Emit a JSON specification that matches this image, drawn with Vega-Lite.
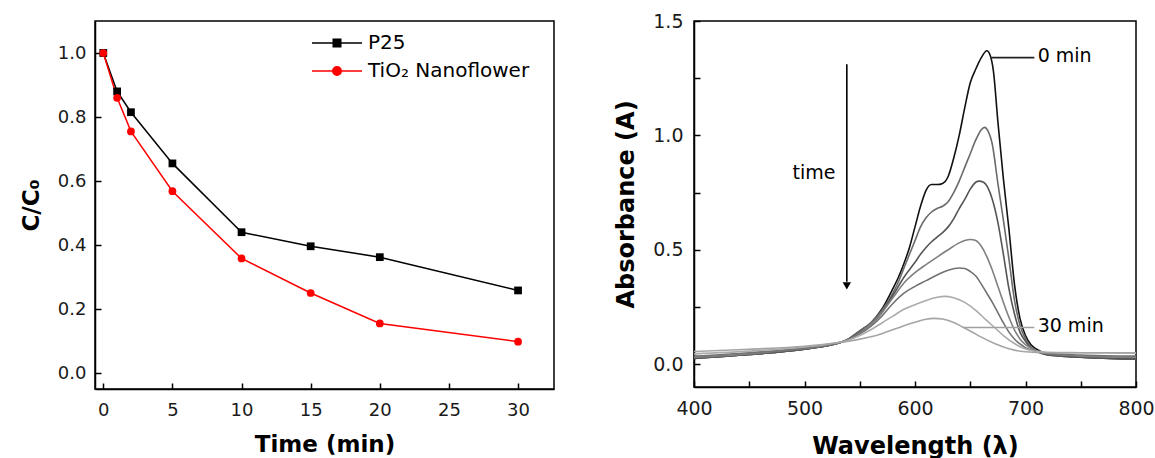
{
  "$schema": "https://vega.github.io/schema/vega-lite/v6.json",
  "background": "white",
  "padding": {"left": 19, "top": 11, "right": 5, "bottom": 0},
  "bounds": "flush",
  "spacing": 140,
  "config": {
    "font": "DejaVu Sans",
    "view": {"stroke": "#000000", "strokeWidth": 1.5},
    "axis": {
      "grid": false,
      "domainColor": "#000000",
      "domainWidth": 1.5,
      "tickColor": "#000000",
      "tickWidth": 1.5,
      "tickSize": -6,
      "labelColor": "#1a1a1a",
      "titleColor": "#000000",
      "labelFont": "DejaVu Sans",
      "titleFont": "DejaVu Sans",
      "titleFontWeight": "bold",
      "labelFlush": false,
      "labelOverlap": false
    }
  },
  "hconcat": [
    {
      "width": 459,
      "height": 368,
      "data": {
        "values": [
          {"s": "P25", "t": 0, "c": 1.0},
          {"s": "P25", "t": 1, "c": 0.88},
          {"s": "P25", "t": 2, "c": 0.815},
          {"s": "P25", "t": 5, "c": 0.655},
          {"s": "P25", "t": 10, "c": 0.44},
          {"s": "P25", "t": 15, "c": 0.396},
          {"s": "P25", "t": 20, "c": 0.362},
          {"s": "P25", "t": 30, "c": 0.258},
          {"s": "TiO₂ Nanoflower", "t": 0, "c": 1.0},
          {"s": "TiO₂ Nanoflower", "t": 1, "c": 0.86},
          {"s": "TiO₂ Nanoflower", "t": 2, "c": 0.755},
          {"s": "TiO₂ Nanoflower", "t": 5, "c": 0.568},
          {"s": "TiO₂ Nanoflower", "t": 10, "c": 0.358},
          {"s": "TiO₂ Nanoflower", "t": 15, "c": 0.25},
          {"s": "TiO₂ Nanoflower", "t": 20, "c": 0.155},
          {"s": "TiO₂ Nanoflower", "t": 30, "c": 0.098}
        ]
      },
      "layer": [
        {
          "mark": {"type": "line", "strokeWidth": 1.5},
          "encoding": {
            "x": {
              "field": "t", "type": "quantitative",
              "scale": {"domain": [-0.6, 32.6], "nice": false, "zero": false},
              "axis": {
                "title": "Time (min)",
                "values": [0, 2.5, 5, 7.5, 10, 12.5, 15, 17.5, 20, 22.5, 25, 27.5, 30],
                "labelExpr": "datum.value % 5 === 0 ? datum.label : ''",
                "labelFontSize": 18,
                "labelPadding": 18,
                "tickSize": -6,
                "titleFontSize": 23,
                "titlePadding": 14
              }
            },
            "y": {
              "field": "c", "type": "quantitative",
              "scale": {"domain": [-0.05, 1.1], "nice": false, "zero": false},
              "axis": {
                "title": "C/C₀",
                "values": [0, 0.1, 0.2, 0.3, 0.4, 0.5, 0.6, 0.7, 0.8, 0.9, 1.0],
                "labelExpr": "round(datum.value * 10) % 2 === 0 ? format(datum.value, '.1f') : ''",
                "labelFontSize": 18,
                "labelPadding": 15,
                "tickSize": -6,
                "titleFontSize": 23,
                "titlePadding": 14
              }
            },
            "color": {
              "field": "s", "type": "nominal",
              "scale": {"domain": ["P25", "TiO₂ Nanoflower"], "range": ["#000000", "#ff0000"]},
              "legend": {
                "orient": "none",
                "legendX": 232,
                "legendY": 12,
                "title": null,
                "padding": 0,
                "symbolSize": 100,
                "symbolStrokeWidth": 1.5,
                "labelFontSize": 20,
                "labelFont": "DejaVu Sans",
                "labelColor": "#000000",
                "labelLimit": 400,
                "labelOffset": 21,
                "rowPadding": 8,
                "encode": {
                  "symbols": {
                    "update": {
                      "shape": {"signal": "datum.value === 'P25' ? 'M-5,0H5M-0.75,-0.75H0.75V0.75H-0.75Z' : 'M-5,0H5M0.85,0A0.85,0.85 0 1 1 -0.85,0A0.85,0.85 0 1 1 0.85,0Z'"},
                      "fill": {"signal": "datum.value === 'P25' ? '#000000' : '#ff0000'"},
                      "stroke": {"signal": "datum.value === 'P25' ? '#000000' : '#ff0000'"},
                      "fillOpacity": {"value": 1},
                      "strokeOpacity": {"value": 1},
                      "strokeWidth": {"value": 1.5}
                    }
                  }
                }
              }
            }
          }
        },
        {
          "transform": [{"filter": "datum.s === 'P25'"}],
          "mark": {"type": "point", "shape": "square", "filled": true, "size": 60, "opacity": 1, "color": "#000000"},
          "encoding": {
            "x": {"field": "t", "type": "quantitative"},
            "y": {"field": "c", "type": "quantitative"}
          }
        },
        {
          "transform": [{"filter": "datum.s !== 'P25'"}],
          "mark": {"type": "point", "shape": "circle", "filled": true, "size": 60, "opacity": 1, "color": "#ff0000"},
          "encoding": {
            "x": {"field": "t", "type": "quantitative"},
            "y": {"field": "c", "type": "quantitative"}
          }
        }
      ]
    },
    {
      "width": 442,
      "height": 366,
      "layer": [
        {
          "data": {
            "values": [
              {"t": 0, "w": 400, "a": 0.025}, {"t": 0, "w": 450, "a": 0.042}, {"t": 0, "w": 500, "a": 0.065}, {"t": 0, "w": 520, "a": 0.08},
              {"t": 0, "w": 540, "a": 0.11}, {"t": 0, "w": 550, "a": 0.145}, {"t": 0, "w": 560, "a": 0.18}, {"t": 0, "w": 570, "a": 0.24},
              {"t": 0, "w": 580, "a": 0.33}, {"t": 0, "w": 585, "a": 0.38}, {"t": 0, "w": 590, "a": 0.44}, {"t": 0, "w": 595, "a": 0.51},
              {"t": 0, "w": 600, "a": 0.6}, {"t": 0, "w": 605, "a": 0.69}, {"t": 0, "w": 610, "a": 0.76}, {"t": 0, "w": 615, "a": 0.785},
              {"t": 0, "w": 620, "a": 0.785}, {"t": 0, "w": 625, "a": 0.79}, {"t": 0, "w": 630, "a": 0.82}, {"t": 0, "w": 635, "a": 0.9},
              {"t": 0, "w": 640, "a": 1.0}, {"t": 0, "w": 645, "a": 1.12}, {"t": 0, "w": 650, "a": 1.23}, {"t": 0, "w": 655, "a": 1.29},
              {"t": 0, "w": 660, "a": 1.34}, {"t": 0, "w": 665, "a": 1.37}, {"t": 0, "w": 668, "a": 1.35}, {"t": 0, "w": 671, "a": 1.28},
              {"t": 0, "w": 675, "a": 1.06}, {"t": 0, "w": 680, "a": 0.81}, {"t": 0, "w": 685, "a": 0.59}, {"t": 0, "w": 690, "a": 0.35},
              {"t": 0, "w": 695, "a": 0.2}, {"t": 0, "w": 700, "a": 0.125}, {"t": 0, "w": 705, "a": 0.085}, {"t": 0, "w": 710, "a": 0.065},
              {"t": 0, "w": 720, "a": 0.045}, {"t": 0, "w": 750, "a": 0.03}, {"t": 0, "w": 800, "a": 0.022},

              {"t": 5, "w": 400, "a": 0.025}, {"t": 5, "w": 450, "a": 0.042}, {"t": 5, "w": 500, "a": 0.065}, {"t": 5, "w": 520, "a": 0.08},
              {"t": 5, "w": 540, "a": 0.11}, {"t": 5, "w": 550, "a": 0.145}, {"t": 5, "w": 560, "a": 0.18}, {"t": 5, "w": 570, "a": 0.235},
              {"t": 5, "w": 580, "a": 0.31}, {"t": 5, "w": 585, "a": 0.36}, {"t": 5, "w": 590, "a": 0.42}, {"t": 5, "w": 595, "a": 0.48},
              {"t": 5, "w": 600, "a": 0.54}, {"t": 5, "w": 605, "a": 0.6}, {"t": 5, "w": 610, "a": 0.64}, {"t": 5, "w": 615, "a": 0.665},
              {"t": 5, "w": 620, "a": 0.68}, {"t": 5, "w": 625, "a": 0.69}, {"t": 5, "w": 630, "a": 0.71}, {"t": 5, "w": 635, "a": 0.75},
              {"t": 5, "w": 640, "a": 0.8}, {"t": 5, "w": 645, "a": 0.86}, {"t": 5, "w": 650, "a": 0.92}, {"t": 5, "w": 655, "a": 0.98},
              {"t": 5, "w": 660, "a": 1.025}, {"t": 5, "w": 663, "a": 1.035}, {"t": 5, "w": 666, "a": 1.02}, {"t": 5, "w": 670, "a": 0.96},
              {"t": 5, "w": 675, "a": 0.79}, {"t": 5, "w": 680, "a": 0.63}, {"t": 5, "w": 685, "a": 0.46}, {"t": 5, "w": 690, "a": 0.28},
              {"t": 5, "w": 695, "a": 0.17}, {"t": 5, "w": 700, "a": 0.11}, {"t": 5, "w": 705, "a": 0.075}, {"t": 5, "w": 710, "a": 0.058},
              {"t": 5, "w": 720, "a": 0.04}, {"t": 5, "w": 750, "a": 0.03}, {"t": 5, "w": 800, "a": 0.022},

              {"t": 10, "w": 400, "a": 0.025}, {"t": 10, "w": 450, "a": 0.042}, {"t": 10, "w": 500, "a": 0.065}, {"t": 10, "w": 520, "a": 0.08},
              {"t": 10, "w": 540, "a": 0.11}, {"t": 10, "w": 550, "a": 0.14}, {"t": 10, "w": 560, "a": 0.175}, {"t": 10, "w": 570, "a": 0.225},
              {"t": 10, "w": 580, "a": 0.3}, {"t": 10, "w": 590, "a": 0.38}, {"t": 10, "w": 600, "a": 0.445}, {"t": 10, "w": 605, "a": 0.48},
              {"t": 10, "w": 610, "a": 0.51}, {"t": 10, "w": 615, "a": 0.535}, {"t": 10, "w": 620, "a": 0.555}, {"t": 10, "w": 625, "a": 0.575},
              {"t": 10, "w": 630, "a": 0.6}, {"t": 10, "w": 635, "a": 0.635}, {"t": 10, "w": 640, "a": 0.68}, {"t": 10, "w": 645, "a": 0.72},
              {"t": 10, "w": 650, "a": 0.765}, {"t": 10, "w": 655, "a": 0.795}, {"t": 10, "w": 658, "a": 0.8}, {"t": 10, "w": 662, "a": 0.795},
              {"t": 10, "w": 666, "a": 0.77}, {"t": 10, "w": 670, "a": 0.72}, {"t": 10, "w": 675, "a": 0.62}, {"t": 10, "w": 680, "a": 0.48},
              {"t": 10, "w": 685, "a": 0.33}, {"t": 10, "w": 690, "a": 0.22}, {"t": 10, "w": 695, "a": 0.14}, {"t": 10, "w": 700, "a": 0.1},
              {"t": 10, "w": 705, "a": 0.07}, {"t": 10, "w": 710, "a": 0.055}, {"t": 10, "w": 720, "a": 0.04}, {"t": 10, "w": 750, "a": 0.03},
              {"t": 10, "w": 800, "a": 0.022},

              {"t": 15, "w": 400, "a": 0.03}, {"t": 15, "w": 450, "a": 0.045}, {"t": 15, "w": 500, "a": 0.068}, {"t": 15, "w": 520, "a": 0.082},
              {"t": 15, "w": 540, "a": 0.108}, {"t": 15, "w": 550, "a": 0.137}, {"t": 15, "w": 560, "a": 0.175}, {"t": 15, "w": 570, "a": 0.225},
              {"t": 15, "w": 580, "a": 0.29}, {"t": 15, "w": 590, "a": 0.355}, {"t": 15, "w": 600, "a": 0.4}, {"t": 15, "w": 610, "a": 0.435},
              {"t": 15, "w": 620, "a": 0.468}, {"t": 15, "w": 630, "a": 0.5}, {"t": 15, "w": 640, "a": 0.53}, {"t": 15, "w": 645, "a": 0.54},
              {"t": 15, "w": 650, "a": 0.545}, {"t": 15, "w": 655, "a": 0.54}, {"t": 15, "w": 660, "a": 0.515}, {"t": 15, "w": 665, "a": 0.47},
              {"t": 15, "w": 670, "a": 0.41}, {"t": 15, "w": 675, "a": 0.34}, {"t": 15, "w": 680, "a": 0.27}, {"t": 15, "w": 685, "a": 0.205},
              {"t": 15, "w": 690, "a": 0.15}, {"t": 15, "w": 695, "a": 0.11}, {"t": 15, "w": 700, "a": 0.085}, {"t": 15, "w": 710, "a": 0.058},
              {"t": 15, "w": 720, "a": 0.045}, {"t": 15, "w": 750, "a": 0.035}, {"t": 15, "w": 800, "a": 0.03},

              {"t": 20, "w": 400, "a": 0.035}, {"t": 20, "w": 450, "a": 0.05}, {"t": 20, "w": 500, "a": 0.07}, {"t": 20, "w": 520, "a": 0.083},
              {"t": 20, "w": 540, "a": 0.107}, {"t": 20, "w": 550, "a": 0.132}, {"t": 20, "w": 560, "a": 0.165}, {"t": 20, "w": 570, "a": 0.21},
              {"t": 20, "w": 580, "a": 0.265}, {"t": 20, "w": 590, "a": 0.31}, {"t": 20, "w": 600, "a": 0.34}, {"t": 20, "w": 610, "a": 0.365},
              {"t": 20, "w": 620, "a": 0.39}, {"t": 20, "w": 630, "a": 0.41}, {"t": 20, "w": 640, "a": 0.42}, {"t": 20, "w": 645, "a": 0.418},
              {"t": 20, "w": 650, "a": 0.405}, {"t": 20, "w": 655, "a": 0.385}, {"t": 20, "w": 660, "a": 0.35}, {"t": 20, "w": 665, "a": 0.31},
              {"t": 20, "w": 670, "a": 0.27}, {"t": 20, "w": 675, "a": 0.225}, {"t": 20, "w": 680, "a": 0.18}, {"t": 20, "w": 685, "a": 0.14},
              {"t": 20, "w": 690, "a": 0.11}, {"t": 20, "w": 695, "a": 0.088}, {"t": 20, "w": 700, "a": 0.072}, {"t": 20, "w": 710, "a": 0.055},
              {"t": 20, "w": 720, "a": 0.047}, {"t": 20, "w": 750, "a": 0.04}, {"t": 20, "w": 800, "a": 0.035},

              {"t": 25, "w": 400, "a": 0.045}, {"t": 25, "w": 450, "a": 0.057}, {"t": 25, "w": 500, "a": 0.075}, {"t": 25, "w": 520, "a": 0.086},
              {"t": 25, "w": 540, "a": 0.105}, {"t": 25, "w": 550, "a": 0.125}, {"t": 25, "w": 560, "a": 0.15}, {"t": 25, "w": 570, "a": 0.18},
              {"t": 25, "w": 580, "a": 0.21}, {"t": 25, "w": 590, "a": 0.24}, {"t": 25, "w": 600, "a": 0.26}, {"t": 25, "w": 610, "a": 0.278},
              {"t": 25, "w": 620, "a": 0.292}, {"t": 25, "w": 627, "a": 0.296}, {"t": 25, "w": 635, "a": 0.29}, {"t": 25, "w": 645, "a": 0.27},
              {"t": 25, "w": 655, "a": 0.235}, {"t": 25, "w": 665, "a": 0.19}, {"t": 25, "w": 672, "a": 0.16}, {"t": 25, "w": 680, "a": 0.125},
              {"t": 25, "w": 690, "a": 0.09}, {"t": 25, "w": 700, "a": 0.066}, {"t": 25, "w": 710, "a": 0.056}, {"t": 25, "w": 720, "a": 0.052},
              {"t": 25, "w": 750, "a": 0.05}, {"t": 25, "w": 800, "a": 0.048},

              {"t": 30, "w": 400, "a": 0.055}, {"t": 30, "w": 450, "a": 0.065}, {"t": 30, "w": 500, "a": 0.078}, {"t": 30, "w": 520, "a": 0.088},
              {"t": 30, "w": 540, "a": 0.1}, {"t": 30, "w": 557, "a": 0.116}, {"t": 30, "w": 570, "a": 0.133}, {"t": 30, "w": 581, "a": 0.152},
              {"t": 30, "w": 590, "a": 0.168}, {"t": 30, "w": 600, "a": 0.183}, {"t": 30, "w": 610, "a": 0.196}, {"t": 30, "w": 617, "a": 0.2},
              {"t": 30, "w": 625, "a": 0.197}, {"t": 30, "w": 635, "a": 0.182}, {"t": 30, "w": 642, "a": 0.165}, {"t": 30, "w": 650, "a": 0.145},
              {"t": 30, "w": 660, "a": 0.118}, {"t": 30, "w": 672, "a": 0.09}, {"t": 30, "w": 685, "a": 0.067}, {"t": 30, "w": 700, "a": 0.054},
              {"t": 30, "w": 720, "a": 0.05}, {"t": 30, "w": 750, "a": 0.05}, {"t": 30, "w": 800, "a": 0.05}
            ]
          },
          "mark": {"type": "line", "strokeWidth": 1.6, "interpolate": "monotone"},
          "encoding": {
            "x": {
              "field": "w", "type": "quantitative",
              "scale": {"domain": [400, 800], "nice": false, "zero": false},
              "axis": {
                "title": "Wavelength (λ)",
                "values": [400, 450, 500, 550, 600, 650, 700, 750, 800],
                "labelExpr": "datum.value % 100 === 0 ? datum.label : ''",
                "labelFontSize": 19,
                "labelPadding": 18,
                "tickSize": -6,
                "titleFontSize": 24,
                "titlePadding": 16
              }
            },
            "y": {
              "field": "a", "type": "quantitative",
              "scale": {"domain": [-0.1, 1.5], "nice": false, "zero": false},
              "axis": {
                "title": "Absorbance (A)",
                "values": [0, 0.25, 0.5, 0.75, 1.0, 1.25, 1.5],
                "labelExpr": "round(datum.value * 4) % 2 === 0 ? format(datum.value, '.1f') : ''",
                "labelFontSize": 19,
                "labelPadding": 17,
                "tickSize": -6,
                "titleFontSize": 24,
                "titlePadding": 14
              }
            },
            "color": {
              "field": "t", "type": "ordinal",
              "scale": {"domain": [0, 5, 10, 15, 20, 25, 30], "range": ["#111111", "#6a6a6a", "#555555", "#808080", "#727272", "#ababab", "#a5a5a5"]},
              "legend": null
            }
          }
        },
        {
          "data": {
            "values": [
              {"w1": 669, "w2": 708, "a": 1.34, "k": "0 min"},
              {"w1": 644, "w2": 708, "a": 0.16, "k": "30 min"}
            ]
          },
          "mark": {"type": "rule", "strokeWidth": 1.6},
          "encoding": {
            "x": {"field": "w1", "type": "quantitative"},
            "x2": {"field": "w2"},
            "y": {"field": "a", "type": "quantitative"},
            "color": {"field": "k", "type": "nominal", "scale": {"domain": ["0 min", "30 min"], "range": ["#222222", "#a0a0a0"]}, "legend": null}
          }
        },
        {
          "data": {
            "values": [
              {"w": 711, "a": 1.346, "txt": "0 min"},
              {"w": 711, "a": 0.168, "txt": "30 min"}
            ]
          },
          "mark": {"type": "text", "align": "left", "baseline": "middle", "fontSize": 19, "font": "DejaVu Sans", "color": "#000000"},
          "encoding": {
            "x": {"field": "w", "type": "quantitative"},
            "y": {"field": "a", "type": "quantitative"},
            "text": {"field": "txt"}
          }
        },
        {
          "data": {"values": [{"w": 528, "a": 0.834, "txt": "time"}]},
          "mark": {"type": "text", "align": "right", "baseline": "middle", "fontSize": 19, "font": "DejaVu Sans", "color": "#000000"},
          "encoding": {
            "x": {"field": "w", "type": "quantitative"},
            "y": {"field": "a", "type": "quantitative"},
            "text": {"field": "txt"}
          }
        },
        {
          "data": {"values": [{"w": 538.3, "a1": 1.311, "a2": 0.36}]},
          "mark": {"type": "rule", "strokeWidth": 1.6, "color": "#000000"},
          "encoding": {
            "x": {"field": "w", "type": "quantitative"},
            "y": {"field": "a1", "type": "quantitative"},
            "y2": {"field": "a2"}
          }
        },
        {
          "data": {"values": [{"w": 538.3, "a": 0.342}]},
          "mark": {"type": "point", "shape": "triangle-down", "filled": true, "size": 70, "color": "#000000", "opacity": 1},
          "encoding": {
            "x": {"field": "w", "type": "quantitative"},
            "y": {"field": "a", "type": "quantitative"}
          }
        }
      ],
      "resolve": {"scale": {"color": "independent"}}
    }
  ]
}
